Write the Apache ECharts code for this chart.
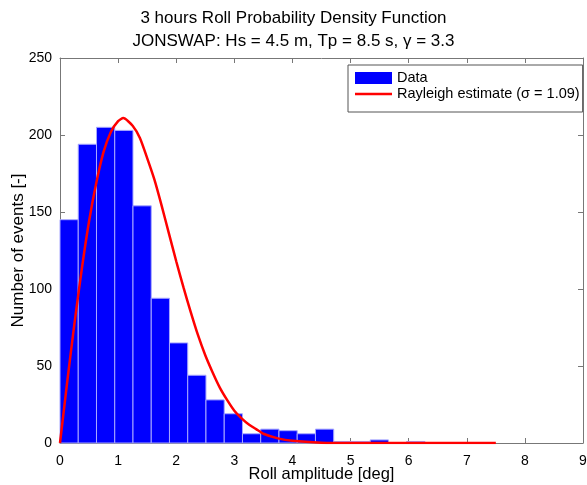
<!DOCTYPE html>
<html>
<head>
<meta charset="utf-8">
<script src="https://cdn.jsdelivr.net/npm/echarts@6/dist/echarts.min.js"></script>
<style>
  html, body { margin: 0; padding: 0; background: #fff; }
  #chart { width: 587px; height: 485px; }
</style>
</head>
<body>
<div id="chart"></div>
<script>
// histogram bins (left edge, deg) and counts
var binLeft = [0, 0.314, 0.628, 0.942, 1.256, 1.57, 1.884, 2.198, 2.512, 2.826,
               3.14, 3.454, 3.768, 4.082, 4.396, 4.71, 5.024, 5.338, 5.652, 5.966];
var binWidth = 0.314;
var binCounts = [145, 194, 205, 203, 154, 94, 65, 44, 28, 19,
                 6, 9, 8, 6, 9, 1, 1, 2, 0, 1];

// rayleigh estimate curve
var curveX = [0, 0.125, 0.25, 0.375, 0.5, 0.625, 0.75, 0.875, 1.0, 1.09, 1.25, 1.375,
              1.5, 1.625, 1.75, 1.875, 2.0, 2.125, 2.25, 2.375, 2.5, 2.625, 2.75, 2.875,
              3.0, 3.125, 3.25, 3.375, 3.5, 3.75, 4.0, 4.5, 5.0, 6.0, 7.0, 7.5];
var curveY = [0, 40, 78, 113, 144, 169, 189, 202, 209, 211, 206, 198,
              185, 171, 154, 136, 118, 101, 85, 70, 57, 46, 36, 28,
              21, 16, 12, 9, 6, 3, 1.4, 0.2, 0, 0, 0, 0];

var xTicks = [0, 1, 2, 3, 4, 5, 6, 7, 8, 9];
var yTicks = [0, 50, 100, 150, 200, 250];

var font = '"Liberation Sans", Arial, Helvetica, sans-serif';
var axisGrey = '#777777';

var chart = echarts.init(document.getElementById('chart'), null, {renderer: 'canvas'});

var barData = [];
for (var i = 0; i < binLeft.length; i++) {
    barData.push([binLeft[i], binLeft[i] + binWidth, binCounts[i]]);
}
var lineData = [];
for (var j = 0; j < curveX.length; j++) {
    lineData.push([curveX[j], curveY[j]]);
}

function baseX(pos, showLabel) {
    return {
        type: 'value', position: pos, min: xTicks[0], max: xTicks[xTicks.length - 1], interval: 1,
        axisLine: {show: true, onZero: false, lineStyle: {color: axisGrey, width: 1}},
        axisTick: {show: true, inside: true, length: 5, lineStyle: {color: axisGrey}},
        axisLabel: {show: showLabel, color: '#000', fontSize: 14, fontFamily: font, margin: 11},
        splitLine: {show: false}
    };
}
function baseY(pos, showLabel) {
    return {
        type: 'value', position: pos, min: yTicks[0], max: yTicks[yTicks.length - 1], interval: 50,
        axisLine: {show: true, onZero: false, lineStyle: {color: axisGrey, width: 1}},
        axisTick: {show: true, inside: true, length: 5, lineStyle: {color: axisGrey}},
        axisLabel: {show: showLabel, color: '#000', fontSize: 14, fontFamily: font, margin: 8},
        splitLine: {show: false}
    };
}

var xBottom = baseX('bottom', true);
xBottom.name = 'Roll amplitude [deg]';
xBottom.nameLocation = 'middle';
xBottom.nameGap = 23;
xBottom.nameMoveOverlap = false;
xBottom.nameTextStyle = {color: '#000', fontSize: 16.5, fontFamily: font};
var xTop = baseX('top', false);

var yLeft = baseY('left', true);
yLeft.name = 'Number of events [-]';
yLeft.nameLocation = 'middle';
yLeft.nameGap = 33;
yLeft.nameMoveOverlap = false;
yLeft.nameTextStyle = {color: '#000', fontSize: 17, fontFamily: font};
var yRight = baseY('right', false);

var option = {
    animation: false,
    backgroundColor: '#ffffff',
    title: {
        text: '3 hours Roll Probability Density Function\nJONSWAP: Hs = 4.5 m, Tp = 8.5 s, \u03b3 = 3.3',
        left: 'center',
        top: 2,
        textStyle: {color: '#000', fontSize: 17, fontWeight: 'normal', fontFamily: font, lineHeight: 23}
    },
    legend: {
        orient: 'vertical',
        left: 348,
        top: 65,
        padding: [5, 3, 10, 7],
        itemWidth: 37,
        itemHeight: 12,
        itemGap: 0,
        backgroundColor: '#ffffff',
        borderColor: '#555555',
        borderWidth: 1,
        textStyle: {color: '#000', fontSize: 14.5, fontFamily: font, lineHeight: 16},
        data: [
            {name: 'Data', icon: 'rect', itemStyle: {color: '#0000ff'}},
            {name: 'Rayleigh estimate (\u03c3 = 1.09)', icon: 'path://M0,0 L37,0 L37,2.5 L0,2.5 Z',
             itemStyle: {color: '#ff0000'}}
        ]
    },
    grid: {left: 60, right: 4, top: 58, bottom: 42, outerBoundsMode: 'none', containLabel: false},
    xAxis: [xBottom, xTop],
    yAxis: [yLeft, yRight],
    series: [
        {
            name: 'Data',
            type: 'custom',
            xAxisIndex: 0,
            yAxisIndex: 0,
            itemStyle: {color: '#0000ff'},
            renderItem: function (params, api) {
                var p0 = api.coord([api.value(0), api.value(2)]);
                var p1 = api.coord([api.value(1), 0]);
                return {
                    type: 'rect',
                    shape: {x: p0[0], y: p0[1], width: p1[0] - p0[0], height: p1[1] - p0[1]},
                    style: {fill: '#0000ff', stroke: '#a8a8ff', lineWidth: 1}
                };
            },
            encode: {x: [0, 1], y: 2},
            data: barData
        },
        {
            name: 'Rayleigh estimate (\u03c3 = 1.09)',
            type: 'line',
            xAxisIndex: 0,
            yAxisIndex: 0,
            smooth: 0.2,
            symbol: 'none',
            lineStyle: {color: '#ff0000', width: 2.5},
            itemStyle: {color: '#ff0000'},
            z: 5,
            data: lineData
        }
    ]
};

chart.setOption(option);
</script>
</body>
</html>
